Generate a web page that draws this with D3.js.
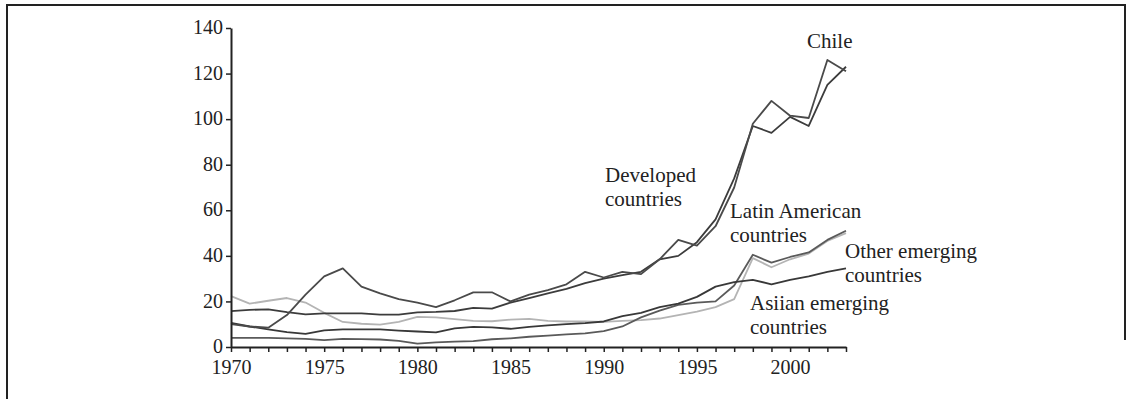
<!DOCTYPE html>
<html>
<head>
<meta charset="utf-8">
<script src="https://cdn.jsdelivr.net/npm/d3@7"></script>
<style>
  body { margin: 0; background: #fff; }
  svg { display: block; font-family: "Liberation Serif", "Times New Roman", serif; }
</style>
</head>
<body>
<div id="chart"></div>
<script>
// years on the x axis
const years = d3.range(1970, 2004);
const yTicks = [0, 20, 40, 60, 80, 100, 120, 140];

// series values, one per year 1970..2003
const chile = [10, 9, 8.5, 14, 23, 31, 34.5, 26.5, 23.5, 21, 19.5, 17.5, 20.5, 24, 24, 20, 23, 25, 27.5, 33,
  30.5, 33, 32, 38.5, 47, 44.5, 53, 70, 98, 108, 101.5, 100.5, 126, 121];
const developed = [15.7, 16.3, 16.5, 15.3, 14.3, 14.8, 14.8, 14.8, 14.2, 14.2, 15.2, 15.4, 15.8, 17.2, 16.8, 19.5, 21.5, 23.5, 25.5, 28,
  30, 31.5, 33, 38.5, 40, 46, 56, 74, 97, 94, 101, 97, 115, 123];
const asian = [22.3, 19, 20.3, 21.5, 19.5, 15, 11, 10.2, 9.8, 11, 13.2, 13, 12.2, 11.5, 11.3, 12, 12.3, 11.5, 11.2, 11.2,
  11, 11.5, 11.8, 12.5, 14, 15.5, 17.5, 21, 39, 35, 38.5, 41, 46.5, 50];
const otherEmerging = [10.6, 9, 7.7, 6.5, 5.8, 7.3, 7.7, 7.7, 7.7, 7.2, 6.8, 6.4, 8.2, 8.8, 8.6, 8, 8.8, 9.5, 10, 10.5,
  11.2, 13.5, 15, 17.5, 19, 22, 26.5, 28.5, 29.5, 27.5, 29.5, 31, 33, 34.5];
const latinAmerican = [4, 4, 4, 3.8, 3.6, 3, 3.6, 3.5, 3.3, 2.7, 1.5, 2, 2.4, 2.6, 3.4, 3.8, 4.5, 5, 5.5, 6,
  7, 9, 13, 16, 18.5, 19.5, 20, 27, 40.5, 37, 39.5, 41.5, 47, 51];

const series = [
  { name: 'Asiian emerging countries', values: asian, color: '#b4b4b4' },
  { name: 'Latin American countries', values: latinAmerican, color: '#5a5a5a' },
  { name: 'Other emerging countries', values: otherEmerging, color: '#383838' },
  { name: 'Developed countries', values: developed, color: '#3c3c3c' },
  { name: 'Chile', values: chile, color: '#4a4a4a' }
];

// label placement (text lines, anchor position in px)
const labels = [
  { lines: ['Chile'], x: 807, y: 48 },
  { lines: ['Developed', 'countries'], x: 605, y: 182 },
  { lines: ['Latin American', 'countries'], x: 730, y: 218 },
  { lines: ['Other emerging', 'countries'], x: 845, y: 258 },
  { lines: ['Asiian emerging', 'countries'], x: 750, y: 310 }
];

const width = 1134, height = 399;
const svg = d3.select('#chart').append('svg')
  .attr('width', width)
  .attr('height', height);

// frame
svg.append('path')
  .attr('d', 'M7,399 L7,5 L1125,5 L1125,340')
  .attr('fill', 'none')
  .attr('stroke', '#222')
  .attr('stroke-width', 2);

const x = d3.scaleLinear().domain([1970, 2003]).range([231, 846]);
const y = d3.scaleLinear().domain([0, 140]).range([347, 28]);

const line = d3.line()
  .x((d, i) => x(years[i]))
  .y(d => y(d));

svg.selectAll('.series')
  .data(series)
  .enter()
  .append('path')
  .attr('class', 'series')
  .attr('fill', 'none')
  .attr('stroke', d => d.color)
  .attr('stroke-width', 1.8)
  .attr('stroke-linejoin', 'round')
  .attr('d', d => line(d.values));

// axes
const xAxis = svg.append('g')
  .attr('transform', `translate(0,${y(0)})`)
  .call(d3.axisBottom(x)
    .tickValues(years)
    .tickFormat(d => d % 5 === 0 ? d : '')
    .tickSize(5)
    .tickSizeOuter(0)
    .tickPadding(8));

const yAxis = svg.append('g')
  .attr('transform', `translate(${x(1970)},0)`)
  .call(d3.axisLeft(y)
    .tickValues(yTicks)
    .tickSize(5)
    .tickSizeOuter(0)
    .tickPadding(3));

[xAxis, yAxis].forEach(g => {
  g.select('.domain').attr('stroke', '#222').attr('stroke-width', 2);
  g.selectAll('.tick line').attr('stroke', '#222').attr('stroke-width', 1.5);
  g.selectAll('text')
    .attr('fill', '#222')
    .style('font-family', '"Liberation Serif", "Times New Roman", serif')
    .style('font-size', '20px');
});
// nudge the 0 label up a bit so it clears 1970
yAxis.selectAll('.tick text').attr('dy', '0.28em');

// series labels
labels.forEach(l => {
  const t = svg.append('text')
    .attr('x', l.x)
    .attr('y', l.y)
    .attr('fill', '#222')
    .style('font-size', '21px');
  l.lines.forEach((s, i) => {
    t.append('tspan')
      .attr('x', l.x)
      .attr('dy', i === 0 ? 0 : 24)
      .text(s);
  });
});
</script>
</body>
</html>
